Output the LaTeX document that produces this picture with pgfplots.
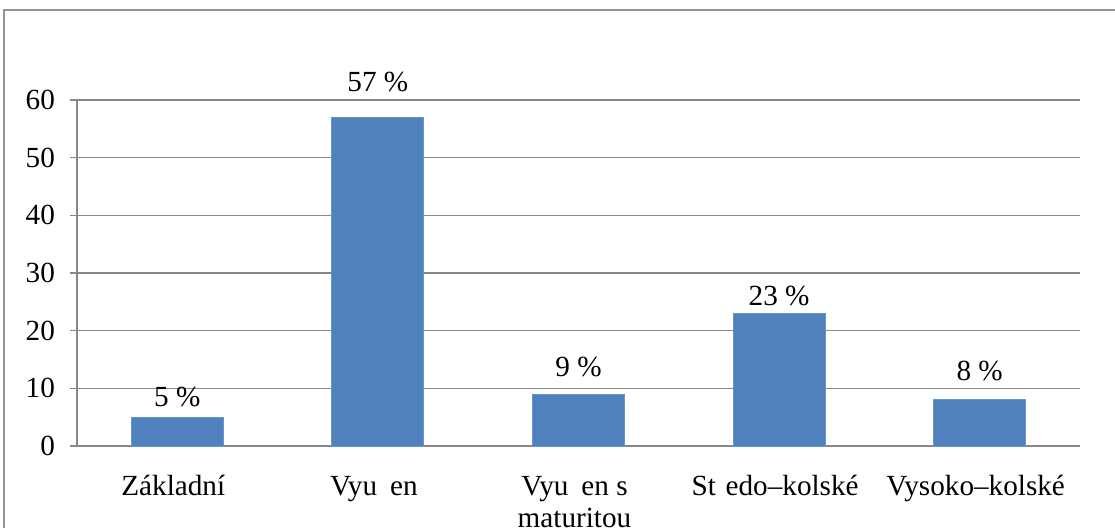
\documentclass[border=0pt]{standalone}
\usepackage{pgfplots}
\pgfplotsset{compat=1.18}
\usepackage{fontspec}
\setmainfont{Liberation Serif}
\definecolor{barblue}{HTML}{4F81BD}
\definecolor{gridgray}{HTML}{878787}
\newcommand{\lblfont}{\fontsize{14.6}{16.5}\selectfont}
\begin{document}
\begin{tikzpicture}
\useasboundingbox (0,0) rectangle (557.5pt,264pt);
\begin{scope}
\clip (0,0) rectangle (557.5pt,264pt);
\draw[gridgray!90, line width=1pt] (2pt,-10pt) rectangle (570pt,259pt);
\end{scope}
\begin{axis}[
  at={(38.5pt,41pt)}, anchor=south west,
  scale only axis, width=501.5pt, height=173pt,
  xmin=-0.5, xmax=4.5, ymin=0, ymax=60,
  enlargelimits=false, clip=false,
  axis x line*=bottom, axis y line*=left,
  axis line style={gridgray, line width=0.6pt},
  ytick={0,10,...,60},
  ymajorgrids, grid style={gridgray, line width=0.6pt},
  tick style={gridgray, line width=0.6pt},
  tick align=outside,
  major tick length=3.5pt,
  xtick={0,1,2,3,4},
  xticklabels={Základní, Vyu\hspace{0.444em}en, {\vtop{\baselineskip=15.6pt\hbox to 0pt{\hss Vyu\hspace{0.444em}en s\hss}\hbox to 0pt{\hss maturitou\hss}}}, St\hspace{0.333em}edo–kolské, Vysoko–kolské},
  x tick style={draw=none},
  extra x ticks={-0.5,0.5,1.5,2.5,3.5,4.5},
  extra x tick labels={},
  extra x tick style={tick style={gridgray, line width=0.6pt, draw=gridgray}, major tick length=3.5pt},
  /pgf/number format/assume math mode=true,
  xticklabel style={font=\lblfont, anchor=base, yshift=-21.5pt, xshift=-2pt, inner ysep=0pt},
  yticklabel style={font=\lblfont, xshift=-4pt},
]
\addplot[ybar, bar width=46pt, bar shift=0pt, fill=barblue, draw=barblue!85!white]
  coordinates {(0,5) (1,57) (2,9) (3,23) (4,8)};
\addplot[draw=none, mark=none, nodes near coords, point meta=explicit symbolic,
  every node near coord/.append style={font=\lblfont, black, anchor=base}]
  coordinates {(0,6.9)[{5 \%}] (1,61.4)[{57 \%}] (2,12.1)[{9 \%}] (3,24.4)[{23 \%}] (4,11.4)[{8 \%}]};
\end{axis}
\end{tikzpicture}
\end{document}
